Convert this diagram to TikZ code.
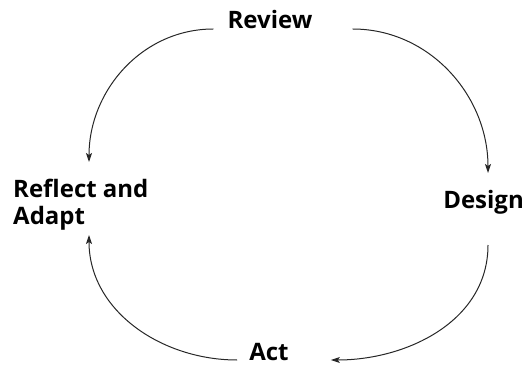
\documentclass[tikz,border=0pt]{standalone}
\usepackage{fontspec}
\setmainfont{Open Sans}
\usetikzlibrary{arrows.meta}
\begin{document}
\begin{tikzpicture}[x=1pt,y=1pt,
  lbl/.style={font=\bfseries\fontsize{24}{27}\selectfont, inner sep=0pt, text=black},
  arr/.style={-{Stealth[length=9pt,width=6pt,inset=2pt]}, line width=1pt, draw=black!85}]
\useasboundingbox (0,0) rectangle (524,367);
\node[lbl, anchor=base] (review) at (270,338) {Review};
\node[lbl, anchor=base east] (design) at (524,159) {Design};
\node[lbl, anchor=base] (act) at (269,7) {Act};
\node[lbl, anchor=north west, align=left] (reflect) at (13,188) {Reflect and\\Adapt};
\draw[arr] ([xshift=-14pt]review.base west) to[out=180,in=90] ([xshift=76pt,yshift=17pt]reflect.north west);
\draw[arr] ([xshift=40pt]review.base east) to[out=0,in=90] ([xshift=-36pt,yshift=35pt]design.base east);
\draw[arr] ([xshift=-36pt,yshift=-37pt]design.base east) to[out=-90,in=0] ([xshift=42pt]act.base east);
\draw[arr] ([xshift=-12pt]act.base west) to[out=180,in=-90] ([xshift=76pt,yshift=-56pt]reflect.north west);
\end{tikzpicture}
\end{document}
